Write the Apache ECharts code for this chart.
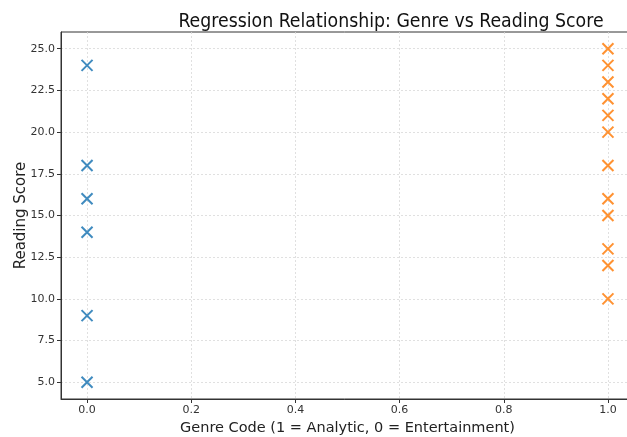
<!DOCTYPE html>
<html>
<head>
<meta charset="utf-8">
<script src="https://cdn.jsdelivr.net/npm/echarts@6/dist/echarts.min.js"></script>
<style>
  html, body { margin: 0; padding: 0; background: #fff; }
  #chart { width: 627px; height: 437px; }
</style>
</head>
<body>
<div id="chart"></div>
<script>
// entertainment (code 0) and analytic (code 1) reading scores
const entertainmentScores = [24, 18, 16, 14, 9, 5];
const analyticScores = [25, 24, 23, 22, 21, 20, 18, 16, 15, 13, 12, 10];
const xTicks = [0, 0.2, 0.4, 0.6, 0.8, 1.0];
const yTicks = [5, 7.5, 10, 12.5, 15, 17.5, 20, 22.5, 25];

const cross = 'path://M0,0 L10,10 M10,0 L0,10';
const font = 'DejaVu Sans';

const chart = echarts.init(document.getElementById('chart'));

const gridLine = { show: true, lineStyle: { color: '#d9d9d9', type: [2, 2], width: 0.8 } };
const spine = { show: true, onZero: false, lineStyle: { color: '#333', width: 1 } };

chart.setOption({
  animation: false,
  title: {
    text: 'Regression Relationship: Genre vs Reading Score',
    left: 386, top: 7, textAlign: 'center',
    textStyle: { fontFamily: 'DejaVu Sans Condensed', fontSize: 19.3, fontWeight: 'normal', color: '#111' }
  },
  grid: {
    left: 61, right: -7, top: 32, bottom: 38,
    outerBoundsMode: 'none', containLabel: false,
    show: true, borderColor: '#333', borderWidth: 1
  },
  xAxis: {
    type: 'value', min: -0.05, max: 1.05,
    name: 'Genre Code (1 = Analytic, 0 = Entertainment)',
    nameLocation: 'middle', nameGap: 22,
    nameTextStyle: { fontFamily: font, fontSize: 14.5, color: '#222' },
    axisLine: spine,
    axisTick: { show: true, customValues: xTicks, length: 4, lineStyle: { color: '#333' } },
    axisLabel: { customValues: xTicks, fontFamily: font, fontSize: 11, color: '#333', margin: 6,
      formatter: v => v.toFixed(1) },
    splitLine: gridLine
  },
  yAxis: {
    type: 'value', min: 4, max: 26,
    name: 'Reading Score',
    nameLocation: 'middle', nameGap: 32, nameMoveOverlap: false,
    nameTextStyle: { fontFamily: font, fontSize: 15, color: '#222' },
    axisLine: spine,
    axisTick: { show: true, customValues: yTicks, length: 4, lineStyle: { color: '#333' } },
    axisLabel: { customValues: yTicks, fontFamily: font, fontSize: 11, color: '#333', margin: 6,
      formatter: v => v.toFixed(1) },
    splitLine: gridLine
  },
  series: [
    {
      type: 'scatter', symbol: cross, symbolSize: 11,
      data: entertainmentScores.map(s => [0, s]),
      itemStyle: { color: 'none', borderColor: '#1f77b4', borderWidth: 2, opacity: 0.85 }
    },
    {
      type: 'scatter', symbol: cross, symbolSize: 11,
      data: analyticScores.map(s => [1, s]),
      itemStyle: { color: 'none', borderColor: '#ff7f0e', borderWidth: 2, opacity: 0.85 }
    }
  ]
});
</script>
</body>
</html>
